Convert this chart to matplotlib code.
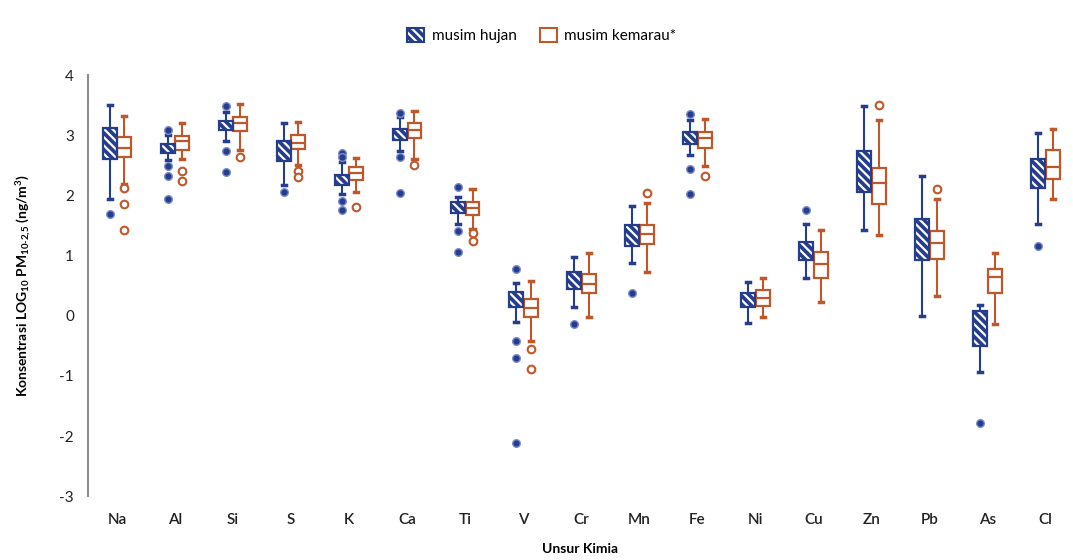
import matplotlib.pyplot as plt
from matplotlib.patches import PathPatch, Patch

plt.rcParams['font.family'] = ['Lato', 'DejaVu Sans']
plt.rcParams['hatch.linewidth'] = 1.6

# unsur kimia (categories)
unsur = ['Na', 'Al', 'Si', 'S', 'K', 'Ca', 'Ti', 'V', 'Cr', 'Mn', 'Fe', 'Ni', 'Cu', 'Zn', 'Pb', 'As', 'Cl']

# musim hujan: whisker low, q1, q3, whisker high, outliers (median hidden by hatching)
hujan_lo = [1.94, 2.58, 2.90, 2.17, 2.02, 2.73, 1.53, -0.10, 0.15, 0.88, 2.67, -0.12, 0.63, 1.43, 0.00, -0.94, 1.53]
hujan_q1 = [2.60, 2.71, 3.08, 2.57, 2.17, 2.92, 1.71, 0.15, 0.44, 1.15, 2.86, 0.14, 0.93, 2.05, 0.93, -0.51, 2.13]
hujan_q3 = [3.12, 2.86, 3.24, 2.90, 2.34, 3.11, 1.89, 0.39, 0.72, 1.51, 3.06, 0.37, 1.23, 2.73, 1.61, 0.07, 2.60]
hujan_hi = [3.51, 3.00, 3.38, 3.21, 2.55, 3.30, 1.98, 0.55, 0.97, 1.83, 3.26, 0.56, 1.53, 3.49, 2.33, 0.18, 3.03]
hujan_out = [[1.69], [3.09, 2.48, 2.32, 1.94], [3.48, 2.73, 2.39], [2.05], [2.71, 2.63, 1.91, 1.76],
             [3.37, 2.64, 2.04], [2.14, 1.41, 1.06], [0.77, -0.42, -0.70, -2.11], [-0.13], [0.38],
             [3.36, 2.44, 2.03], [], [1.75], [], [], [-1.78], [1.16]]

# musim kemarau
kemarau_lo = [2.19, 2.60, 2.76, 2.50, 2.05, 2.60, 1.44, -0.42, -0.03, 0.73, 2.48, -0.02, 0.23, 1.34, 0.32, -0.13, 1.94]
kemarau_q1 = [2.63, 2.76, 3.07, 2.77, 2.26, 2.95, 1.68, -0.03, 0.37, 1.19, 2.79, 0.16, 0.63, 1.85, 0.95, 0.38, 2.28]
kemarau_med = [2.79, 2.90, 3.21, 2.87, 2.37, 3.09, 1.79, 0.13, 0.53, 1.35, 2.96, 0.29, 0.86, 2.20, 1.20, 0.65, 2.47]
kemarau_q3 = [2.97, 2.99, 3.30, 3.00, 2.47, 3.21, 1.89, 0.27, 0.70, 1.51, 3.06, 0.42, 1.06, 2.46, 1.40, 0.77, 2.76]
kemarau_hi = [3.32, 3.21, 3.52, 3.22, 2.62, 3.40, 2.11, 0.58, 1.04, 1.87, 3.27, 0.63, 1.42, 3.26, 1.94, 1.04, 3.11]
kemarau_out = [[2.12, 1.86, 1.42], [2.40, 2.24], [2.64], [2.41, 2.30], [1.81], [2.51], [1.38, 1.24],
               [-0.55, -0.89], [], [2.04], [2.33], [], [], [3.51], [2.11], [], []]

biru = '#243d8c'
oranye = '#c0572b'
hatch = '\\\\\\\\'

fig, ax = plt.subplots(figsize=(10.73, 5.6), dpi=100)
fig.subplots_adjust(left=0.082, right=1.0, top=0.866, bottom=0.114)

pos = list(range(len(unsur)))
w = 0.24

stats_h = [dict(whislo=a, q1=b, med=b, q3=c, whishi=d, fliers=e)
           for a, b, c, d, e in zip(hujan_lo, hujan_q1, hujan_q3, hujan_hi, hujan_out)]
stats_k = [dict(whislo=a, q1=b, med=m, q3=c, whishi=d, fliers=e)
           for a, b, m, c, d, e in zip(kemarau_lo, kemarau_q1, kemarau_med, kemarau_q3, kemarau_hi, kemarau_out)]

bh = ax.bxp(stats_h, positions=[p - 0.125 for p in pos], widths=w, patch_artist=True,
            capwidths=0.07,
            boxprops=dict(facecolor=biru, edgecolor='white', hatch=hatch, linewidth=0.0),
            whiskerprops=dict(color=biru, linewidth=1.5),
            capprops=dict(color=biru, linewidth=2.5),
            medianprops=dict(visible=False),
            flierprops=dict(marker='o', markerfacecolor=biru, markeredgecolor='#7f8ccc',
                            markersize=5.5, markeredgewidth=1.0))
# outline around the hatched boxes
for b in bh['boxes']:
    ax.add_patch(PathPatch(b.get_path(), facecolor='none', edgecolor=biru, linewidth=1.6, zorder=3))

ax.bxp(stats_k, positions=[p + 0.125 for p in pos], widths=w, patch_artist=True,
       capwidths=0.07,
       boxprops=dict(facecolor='white', edgecolor=oranye, linewidth=1.6),
       whiskerprops=dict(color=oranye, linewidth=1.5),
       capprops=dict(color=oranye, linewidth=2.5),
       medianprops=dict(color=oranye, linewidth=1.6),
       flierprops=dict(marker='o', markerfacecolor='white', markeredgecolor=oranye,
                       markersize=5.5, markeredgewidth=1.5))

ax.set_xlim(-0.5, 16.47)
ax.set_ylim(-3, 4)
ax.set_xticks(pos)
ax.set_xticklabels(unsur, fontsize=11, fontweight='semibold', color='#222222')
ax.set_yticks(range(-3, 5))
ax.set_yticklabels([str(v) for v in range(-3, 5)], fontsize=11, color='#222222')
ax.tick_params(axis='both', length=0)
ax.tick_params(axis='x', pad=12)
ax.tick_params(axis='y', pad=10)
for s in ['top', 'right', 'bottom']:
    ax.spines[s].set_visible(False)
ax.spines['left'].set_color('#8c8c8c')
ax.spines['left'].set_linewidth(1.5)

ax.set_xlabel('Unsur Kimia', fontsize=10, fontweight='bold', labelpad=12)
ax.set_ylabel(r'Konsentrasi LOG$\mathregular{_{10}}$ PM$\mathregular{_{10\text{-}2{,}5}}$ (ng/m$\mathregular{^3}$)',
              fontsize=10, fontweight='bold', labelpad=18)

h_fill = Patch(facecolor=biru, edgecolor='white', hatch=hatch, linewidth=0)
h_line = Patch(facecolor='none', edgecolor=biru, linewidth=1.5)
k_box = Patch(facecolor='white', edgecolor=oranye, linewidth=1.5)
fig.legend(handles=[(h_fill, h_line), k_box], labels=['musim hujan', 'musim kemarau*'],
           loc='center', bbox_to_anchor=(0.505, 0.937), ncol=2, frameon=False,
           fontsize=11, handlelength=1.1, handleheight=1.1, columnspacing=1.5, handletextpad=0.5)

plt.savefig('out.png')
